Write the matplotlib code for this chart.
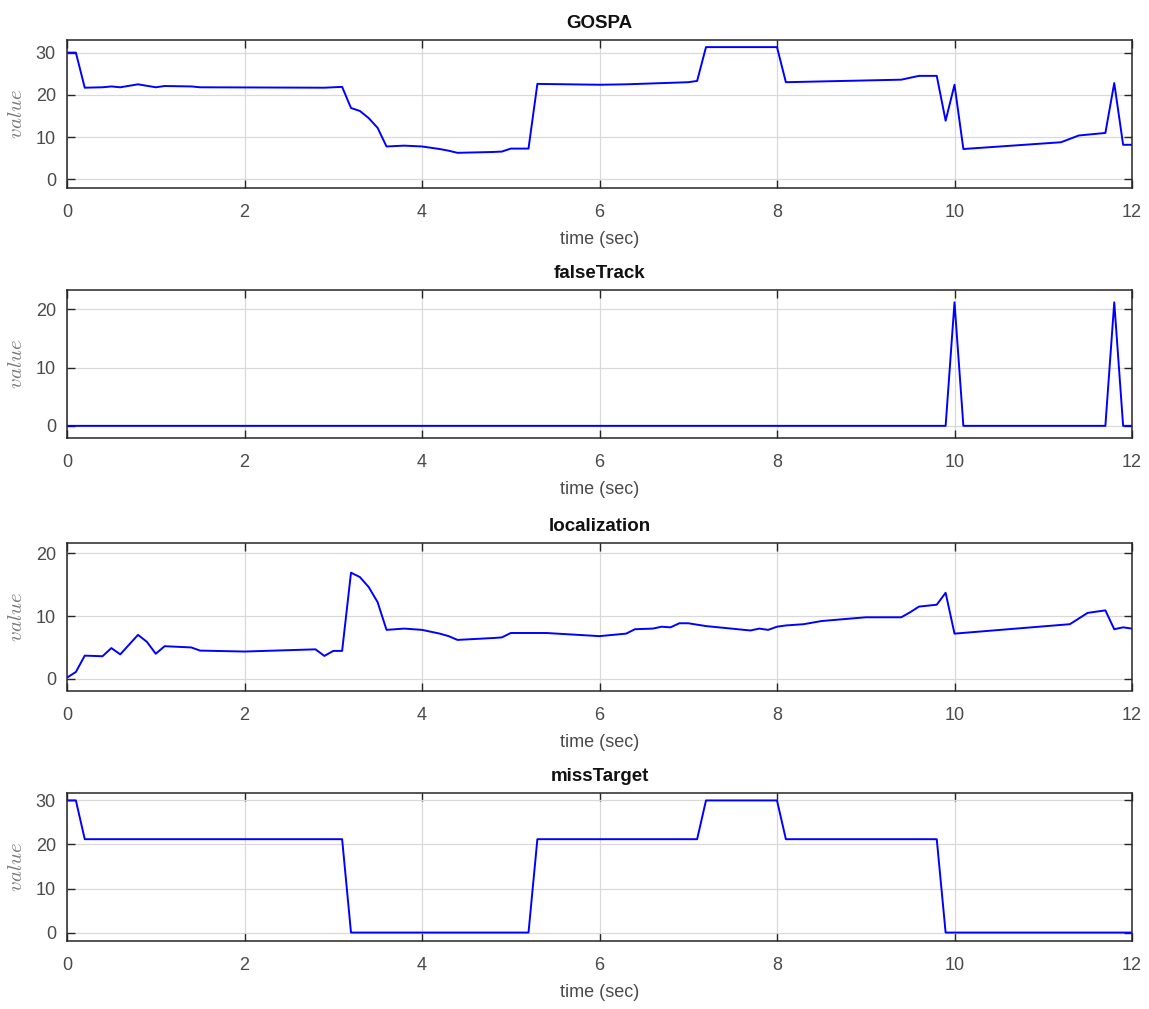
import matplotlib
import matplotlib.pyplot as plt

matplotlib.use("Agg")

plt.rcParams["font.family"] = ["Liberation Sans", "DejaVu Sans"]
plt.rcParams["mathtext.fontset"] = "cm"

# GOSPA metric (vertices of the polyline)
gospa_t = [0, 0.1, 0.2, 0.4, 0.5, 0.6, 0.8, 1.0, 1.1, 1.4, 1.5, 2.9, 3.1, 3.2,
           3.3, 3.4, 3.5, 3.6, 3.8, 4.0, 4.2, 4.3, 4.4, 4.8, 4.9, 5.0, 5.2, 5.3,
           6.0, 6.3, 7.0, 7.1, 7.2, 8.0, 8.1, 9.4, 9.6, 9.8, 9.9, 10.0, 10.1,
           11.2, 11.4, 11.7, 11.8, 11.9, 12.0]
gospa_v = [30.0, 30.0, 21.7, 21.8, 22.0, 21.8, 22.5, 21.8, 22.1, 22.0, 21.8,
           21.7, 21.9, 16.9, 16.2, 14.5, 12.2, 7.8, 8.0, 7.8, 7.2, 6.8, 6.3,
           6.5, 6.6, 7.3, 7.3, 22.6, 22.4, 22.5, 23.0, 23.3, 31.3, 31.3, 23.0,
           23.6, 24.5, 24.5, 13.9, 22.4, 7.2, 8.8, 10.4, 11.0, 22.8, 8.2, 8.2]

# false track component
false_t = [0, 9.9, 10.0, 10.1, 11.7, 11.8, 11.9, 12.0]
false_v = [0, 0, 21.2, 0, 0, 21.2, 0, 0]

# localization component
loc_t = [0, 0.1, 0.2, 0.4, 0.5, 0.6, 0.8, 0.9, 1.0, 1.1, 1.4, 1.5, 2.0, 2.8,
         2.9, 3.0, 3.1, 3.2, 3.3, 3.4, 3.5, 3.6, 3.8, 4.0, 4.2, 4.3, 4.4, 4.8,
         4.9, 5.0, 5.4, 6.0, 6.3, 6.4, 6.6, 6.7, 6.8, 6.9, 7.0, 7.2, 7.7, 7.8,
         7.9, 8.0, 8.1, 8.3, 8.5, 9.0, 9.4, 9.5, 9.6, 9.8, 9.9, 10.0, 11.3,
         11.5, 11.7, 11.8, 11.9, 12.0]
loc_v = [0.2, 1.1, 3.7, 3.6, 4.9, 3.9, 7.0, 5.9, 4.0, 5.2, 5.0, 4.5, 4.35,
         4.7, 3.65, 4.45, 4.45, 16.9, 16.2, 14.6, 12.2, 7.8, 8.0, 7.8, 7.2,
         6.8, 6.2, 6.5, 6.6, 7.3, 7.3, 6.8, 7.2, 7.9, 8.0, 8.3, 8.2, 8.85,
         8.85, 8.4, 7.7, 8.0, 7.8, 8.3, 8.5, 8.7, 9.2, 9.8, 9.8, 10.6, 11.5,
         11.8, 13.7, 7.2, 8.7, 10.5, 10.9, 7.9, 8.2, 8.0]

# missed target component
miss_t = [0, 0.1, 0.2, 3.1, 3.2, 5.2, 5.3, 7.1, 7.2, 8.0, 8.1, 9.8, 9.9, 12.0]
miss_v = [30.0, 30.0, 21.2, 21.2, 0, 0, 21.2, 21.2, 30.0, 30.0, 21.2, 21.2, 0, 0]

titles = ["GOSPA", "falseTrack", "localization", "missTarget"]
series = [(gospa_t, gospa_v), (false_t, false_v), (loc_t, loc_v), (miss_t, miss_v)]
ylims = [(-1.9, 33.1), (-2.0, 23.4), (-1.85, 21.7), (-1.8, 31.8)]
yticks = [[0, 10, 20, 30], [0, 10, 20], [0, 10, 20], [0, 10, 20, 30]]
xticks = [0, 2, 4, 6, 8, 10, 12]

W, H = 1149, 1009
fig = plt.figure(figsize=(W / 100, H / 100), dpi=100)

# axes placement in pixels (top edge), all with the same height
tops = [39.5, 289.5, 542.5, 792.5]
ax_h = 148
left, right = 67, 1132

axis_col = "#262626"
for i in range(4):
    ax = fig.add_axes([left / W, 1 - (tops[i] + ax_h) / H, (right - left) / W, ax_h / H])
    t, v = series[i]
    ax.plot(t, v, color="#0000ff", lw=1.4)
    ax.set_xlim(0, 12)
    ax.set_ylim(*ylims[i])
    ax.set_xticks(xticks)
    ax.set_yticks(yticks[i])
    ax.grid(True, color="#d9d9d9", lw=0.9)
    ax.set_axisbelow(True)
    for s in ax.spines.values():
        s.set_color(axis_col)
        s.set_linewidth(1.1)
    ax.tick_params(direction="in", length=6, width=1.0, colors=axis_col,
                   labelcolor="#4a4a4a", labelsize=13, top=True, right=True)
    ax.tick_params(axis="x", pad=12)
    ax.tick_params(axis="y", pad=8)
    ax.set_title(titles[i], fontsize=13.5, fontweight="bold", color="#111111", pad=8)
    ax.set_xlabel("time (sec)", fontsize=13, color="#4a4a4a", labelpad=7)
    ax.set_ylabel(r"$value$", fontsize=15, color="#7a7a7a", labelpad=7)

fig.savefig("out.png", dpi=100, facecolor="white")
